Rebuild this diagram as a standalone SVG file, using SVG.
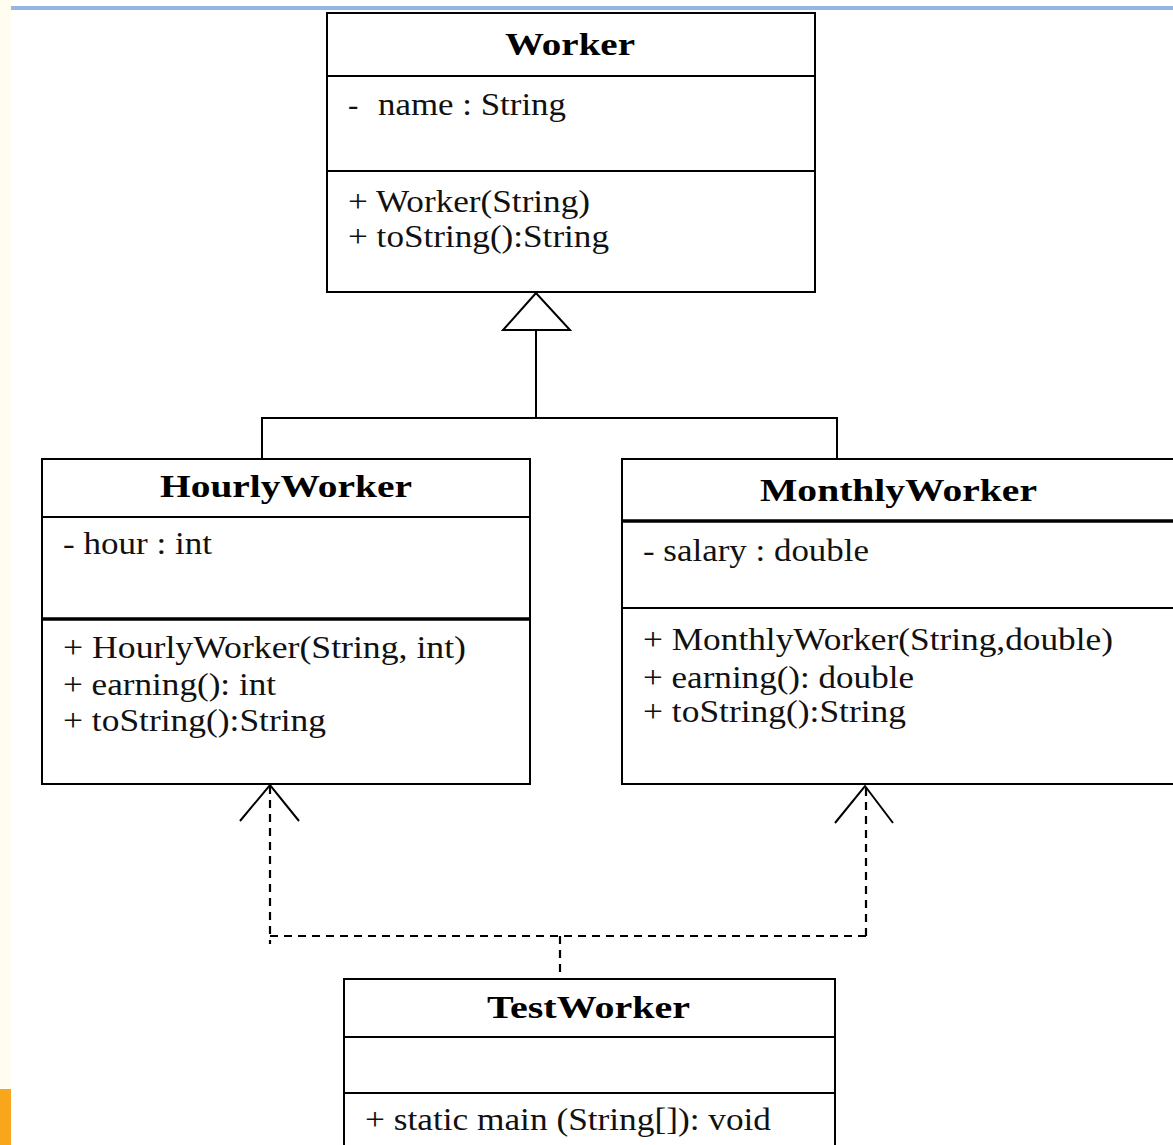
<svg xmlns="http://www.w3.org/2000/svg" width="1173" height="1145" viewBox="0 0 1173 1145">
<style>
.box{fill:#fff;stroke:#000;stroke-width:2}
.div{stroke:#000;stroke-width:2}
.thick{stroke:#000;stroke-width:3.5}
.t{font-family:"Liberation Serif","Times New Roman",serif;font-size:31px;fill:#111}
.b{font-family:"Liberation Serif","Times New Roman",serif;font-size:32px;font-weight:bold;fill:#000}
.line{fill:none;stroke:#000;stroke-width:2}
.dash{fill:none;stroke:#000;stroke-width:2.2;stroke-dasharray:8 6}
</style>
<rect x="0" y="0" width="1173" height="1145" fill="#fff"/>
<rect x="0" y="0" width="11" height="1145" fill="#fffdf0"/>
<rect x="0" y="1089" width="11" height="56" fill="#f8a61c"/>
<rect x="11" y="6" width="1162" height="4" fill="#92b5e2"/>

<g id="worker">
<rect class="box" x="327" y="13" width="488" height="279"/>
<line class="div" x1="327" y1="76" x2="815" y2="76"/>
<line class="div" x1="327" y1="171" x2="815" y2="171"/>
<text class="b" x="505" y="55" textLength="130" lengthAdjust="spacingAndGlyphs">Worker</text>
<text class="t" x="348" y="115">-<tspan x="378" textLength="188" lengthAdjust="spacingAndGlyphs">name : String</tspan></text>
<text class="t" x="348" y="212" textLength="242" lengthAdjust="spacingAndGlyphs">+ Worker(String)</text>
<text class="t" x="348" y="247" textLength="261" lengthAdjust="spacingAndGlyphs">+ toString():String</text>
</g>

<g id="hourlyworker">
<rect class="box" x="42" y="459" width="488" height="325"/>
<line class="div" x1="42" y1="517" x2="530" y2="517"/>
<line class="thick" x1="42" y1="619" x2="530" y2="619"/>
<text class="b" x="160" y="497" textLength="252" lengthAdjust="spacingAndGlyphs">HourlyWorker</text>
<text class="t" x="63" y="554" textLength="149" lengthAdjust="spacingAndGlyphs">- hour : int</text>
<text class="t" x="63" y="658" textLength="403" lengthAdjust="spacingAndGlyphs">+ HourlyWorker(String, int)</text>
<text class="t" x="63" y="695" textLength="213" lengthAdjust="spacingAndGlyphs">+ earning(): int</text>
<text class="t" x="63" y="731" textLength="263" lengthAdjust="spacingAndGlyphs">+ toString():String</text>
</g>

<g id="monthlyworker">
<rect class="box" x="622" y="459" width="560" height="325"/>
<line class="thick" x1="622" y1="521" x2="1173" y2="521"/>
<line class="div" x1="622" y1="608" x2="1173" y2="608"/>
<text class="b" x="760" y="501" textLength="277" lengthAdjust="spacingAndGlyphs">MonthlyWorker</text>
<text class="t" x="643" y="561" textLength="226" lengthAdjust="spacingAndGlyphs">- salary : double</text>
<text class="t" x="643" y="650" textLength="470" lengthAdjust="spacingAndGlyphs">+ MonthlyWorker(String,double)</text>
<text class="t" x="643" y="688" textLength="271" lengthAdjust="spacingAndGlyphs">+ earning(): double</text>
<text class="t" x="643" y="722" textLength="263" lengthAdjust="spacingAndGlyphs">+ toString():String</text>
</g>

<g id="testworker">
<rect class="box" x="344" y="979" width="491" height="200"/>
<line class="div" x1="344" y1="1037" x2="835" y2="1037"/>
<line class="div" x1="344" y1="1093" x2="835" y2="1093"/>
<text class="b" x="487" y="1018" textLength="203" lengthAdjust="spacingAndGlyphs">TestWorker</text>
<text class="t" x="365" y="1130" textLength="406" lengthAdjust="spacingAndGlyphs">+ static main (String[]): void</text>
</g>

<g id="connectors">
<polygon points="536,293 503,330 570,330" fill="#fff" stroke="#000" stroke-width="2"/>
<polyline class="line" points="536,330 536,418"/>
<polyline class="line" points="262,459 262,418 837,418 837,459"/>
<polyline class="line" points="240,821 270,785 299,821"/>
<polyline class="line" points="835,823 865,786 893,823"/>
<line class="dash" x1="270" y1="786" x2="270" y2="944"/>
<line class="dash" x1="866" y1="788" x2="866" y2="936"/>
<line class="dash" x1="270" y1="936" x2="866" y2="936"/>
<line class="dash" x1="560" y1="936" x2="560" y2="979"/>
</g>
</svg>
